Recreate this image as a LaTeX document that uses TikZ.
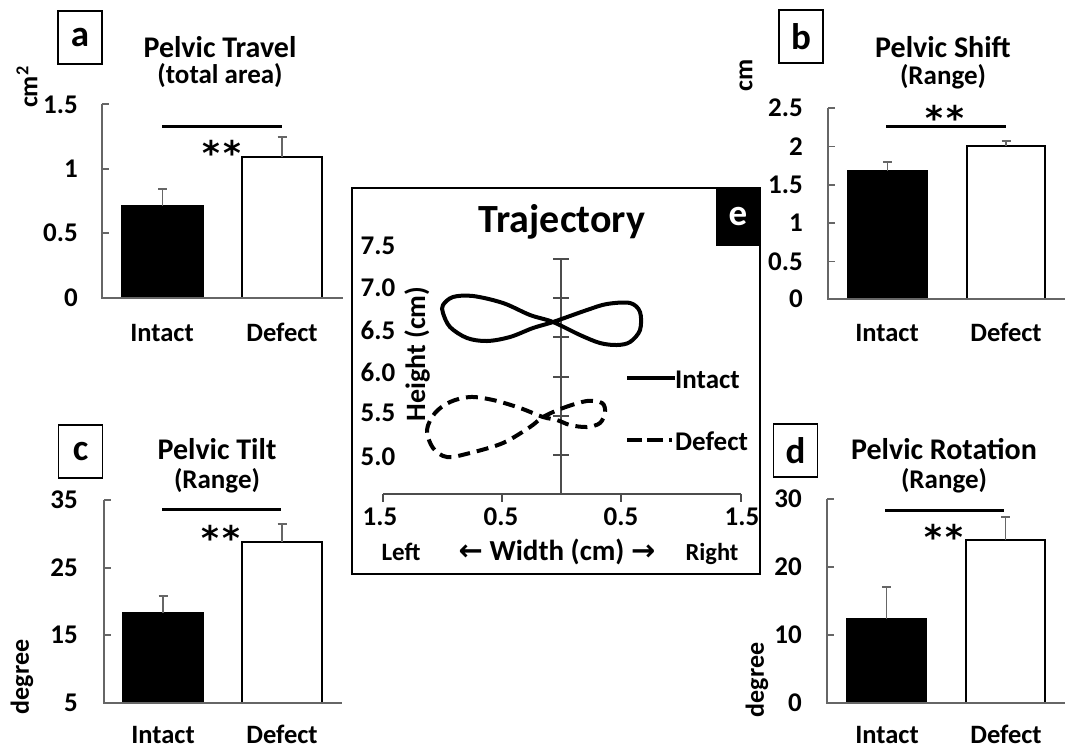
\documentclass[tikz,border=0pt]{standalone}
\usepackage{fontspec}
\setmainfont{Carlito}
\newfontfamily\arrowfont{DejaVu Sans}
\newcommand\myfs[1]{\fontsize{#1}{#1}\selectfont}
\begin{document}
\begin{tikzpicture}[x=1pt,y=-1pt,
  ttl/.style={font=\bfseries\myfs{30}, inner sep=0pt, anchor=base},
  sub/.style={font=\bfseries\myfs{27}, inner sep=0pt, anchor=base},
  tlbl/.style={font=\bfseries\myfs{27}, inner sep=0pt, anchor=east},
  cat/.style={font=\bfseries\myfs{26.5}, inner sep=0pt, anchor=base},
  unit/.style={font=\bfseries\myfs{26}, inner sep=0pt, rotate=90},
  tag/.style={draw, line width=1.3pt, font=\bfseries\myfs{37}, minimum width=44pt, minimum height=53pt, inner sep=0pt},
  axisln/.style={draw=black!60, line width=1.2pt},
  barI/.style={fill=black, draw=black, line width=1.3pt},
  barD/.style={fill=white, draw=black, line width=1.3pt},
  err/.style={draw=black!60, line width=1.2pt},
  sig/.style={line width=3pt},
  stars/.style={font=\arrowfont\bfseries\myfs{34}, inner sep=0pt, anchor=base},
  eaxis/.style={draw=black!70, line width=1.1pt},
  elbl/.style={font=\bfseries\myfs{27}, inner sep=0pt},
  curve/.style={line width=4pt},
]
\useasboundingbox[fill=white] (0,0) rectangle (1070,748);

% ===== Panel a =====
\node[tag] (taga) at (80,37.5) {a};
\node[ttl] (ta) at (220,57) {Pelvic Travel};
\node[sub] (sa) at (220,83) {(total area)};
\node[unit] (ua) at (27,87) {cm\textsuperscript{2}};
\draw[barI] (122,298) rectangle (203,206);
\draw[barD] (242,298) rectangle (322,157);
\draw[err] (162.5,206) -- (162.5,189) (158,189) -- (167,189);
\draw[err] (282,157) -- (282,137) (277.5,137) -- (286.5,137);
\draw[axisln] (102,104) -- (102,298) -- (343,298);
\foreach \yy in {104,169,233} \draw[axisln] (102,\yy) -- (109,\yy);
\node[tlbl] (a15) at (78,105) {1.5};
\node[tlbl] (a10) at (78,169) {1};
\node[tlbl] (a05) at (78,233) {0.5};
\node[tlbl] (a00) at (78,298) {0};
\draw[sig] (162,126) -- (282,126);
\node[stars] (sta) at (222,165) {*\hspace{4pt}*};
\node[cat] (ia) at (162,341) {Intact};
\node[cat] (da) at (282,341) {Defect};

% ===== Panel b =====
\node[tag] (tagb) at (801,36.5) {b};
\node[ttl] (tb) at (943,57) {Pelvic Shift};
\node[sub] (sb) at (943,84) {(Range)};
\node[unit] (ub) at (746,75) {cm};
\draw[barI] (848,299) rectangle (927,171);
\draw[barD] (967,299) rectangle (1045,146);
\draw[err] (887.5,171) -- (887.5,162) (883,162) -- (892,162);
\draw[err] (1006,146) -- (1006,141) (1001.5,141) -- (1010.5,141);
\draw[axisln] (828,108) -- (828,299) -- (1065,299);
\foreach \yy in {108,146.5,185,223,261.5} \draw[axisln] (828,\yy) -- (835,\yy);
\node[tlbl] (b25) at (803,108) {2.5};
\node[tlbl] (b20) at (803,147) {2};
\node[tlbl] (b15) at (803,185) {1.5};
\node[tlbl] (b10) at (803,223) {1};
\node[tlbl] (b05) at (803,262) {0.5};
\node[tlbl] (b00) at (803,299) {0};
\draw[sig] (886,126) -- (1006,126);
\node[stars] (stb) at (945,130) {*\hspace{4pt}*};
\node[cat] (ib) at (887,341) {Intact};
\node[cat] (db) at (1006,341) {Defect};

% ===== Panel c =====
\node[tag] (tagc) at (80.5,451.5) {c};
\node[ttl] (tc) at (217,459) {Pelvic Tilt};
\node[sub] (sc) at (217,488) {(Range)};
\node[unit] (uc) at (22,677) {degree};
\draw[barI] (123,703) rectangle (203,613);
\draw[barD] (242,703) rectangle (322,542);
\draw[err] (163,613) -- (163,596) (158.5,596) -- (167.5,596);
\draw[err] (282,542) -- (282,524) (277.5,524) -- (286.5,524);
\draw[axisln] (104,500) -- (104,703) -- (342,703);
\foreach \yy in {500,568,635} \draw[axisln] (104,\yy) -- (111,\yy);
\node[tlbl] (c35) at (78,500) {35};
\node[tlbl] (c25) at (78,568) {25};
\node[tlbl] (c15) at (78,635) {15};
\node[tlbl] (c05) at (78,703) {5};
\draw[sig] (162,509) -- (281,509);
\node[stars] (stc) at (221,550) {*\hspace{4pt}*};
\node[cat] (ic) at (163,743) {Intact};
\node[cat] (dc) at (282,743) {Defect};

% ===== Panel d =====
\node[tag] (tagd) at (795.5,450.5) {d};
\node[ttl] (td) at (944,459) {Pelvic Rotation};
\node[sub] (sd) at (944,488) {(Range)};
\node[unit] (ud) at (757,680) {degree};
\draw[barI] (847,703) rectangle (926,619);
\draw[barD] (966,703) rectangle (1045,540);
\draw[err] (886.5,619) -- (886.5,587) (882,587) -- (891,587);
\draw[err] (1005.5,540) -- (1005.5,517) (1001,517) -- (1010,517);
\draw[axisln] (827,499) -- (827,703) -- (1065,703);
\foreach \yy in {499,567,635} \draw[axisln] (827,\yy) -- (834,\yy);
\node[tlbl] (d30) at (802,499) {30};
\node[tlbl] (d20) at (802,567) {20};
\node[tlbl] (d10) at (802,635) {10};
\node[tlbl] (d00) at (802,703) {0};
\draw[sig] (885,510) -- (1004,510);
\node[stars] (std) at (944,549) {*\hspace{4pt}*};
\node[cat] (id) at (887,743) {Intact};
\node[cat] (dd) at (1006,743) {Defect};

% ===== Panel e =====
\draw[line width=1.5pt] (352,188) rectangle (760,574);
\node[fill=black, minimum width=44pt, minimum height=58pt, inner sep=0pt, text=white, font=\bfseries\myfs{37}] (tage) at (738,217) {e};
\node[font=\bfseries\myfs{40}, inner sep=0pt, anchor=base] (te) at (562,232) {Trajectory};
\draw[eaxis] (561,259) -- (561,494);
\foreach \yy in {259,298,337,377,416,455} \draw[eaxis] (553,\yy) -- (569,\yy);
\draw[eaxis] (383,494) -- (741,494);
\foreach \xx in {383,502,621,741} \draw[eaxis] (\xx,494) -- (\xx,502);
\node[elbl] (e75) at (378,246) {7.5};
\node[elbl] (e70) at (378,288) {7.0};
\node[elbl] (e65) at (378,330) {6.5};
\node[elbl] (e60) at (378,372) {6.0};
\node[elbl] (e55) at (378,413) {5.5};
\node[elbl] (e50) at (378,457) {5.0};
\node[elbl] (x1) at (380,517) {1.5};
\node[elbl] (x2) at (501,517) {0.5};
\node[elbl] (x3) at (621,517) {0.5};
\node[elbl] (x4) at (742,517) {1.5};
\node[font=\bfseries\myfs{25}, inner sep=0pt, anchor=base] (lft) at (401,560) {Left};
\node[font=\bfseries\myfs{24.5}, inner sep=0pt, anchor=base] (rgt) at (712,560) {Right};
\node[font=\bfseries\myfs{29}, inner sep=0pt, anchor=base] (wid) at (557,560) {{\arrowfont\bfseries ←} Width (cm) {\arrowfont\bfseries →}};
\node[font=\bfseries\myfs{28}, inner sep=0pt, rotate=90] (hgt) at (417,354) {Height (cm)};
% intact trajectory
\draw[curve] plot[smooth cycle, tension=0.55] coordinates {
 (553,322) (587,310) (607,304) (630,303) (640,312) (640,330) (630,342) (617,345) (600,343) (580,335)
 (553,322) (530,315) (503,303) (473,296) (453,297) (443,305) (443,313) (450,327) (467,338) (487,341) (510,337) (533,328)};
% defect trajectory
\draw[curve, dash pattern=on 12pt off 7pt] plot[smooth cycle, tension=0.55] coordinates {
 (543,417) (563,408) (587,401) (602,403) (605,412) (600,423) (587,427) (570,425) (557,420)
 (543,417) (520,408) (493,400) (470,397) (450,402) (435,413) (427,430) (433,448) (447,457) (470,453) (503,443) (530,427)};
% legend
\coordinate (l1a) at (627,378);
\coordinate (l1b) at (675,378);
\draw[line width=4pt] (l1a) -- (l1b);
\node[elbl, anchor=west] (li) at (675,380) {Intact};
\coordinate (l2a) at (627,440);
\coordinate (l2b) at (674,440);
\draw[line width=4pt, dash pattern=on 15pt off 5pt on 16pt off 6pt on 3pt off 10pt] (l2a) -- (l2b);
\node[elbl, anchor=west] (ld) at (675,441) {Defect};
\end{tikzpicture}
\end{document}
